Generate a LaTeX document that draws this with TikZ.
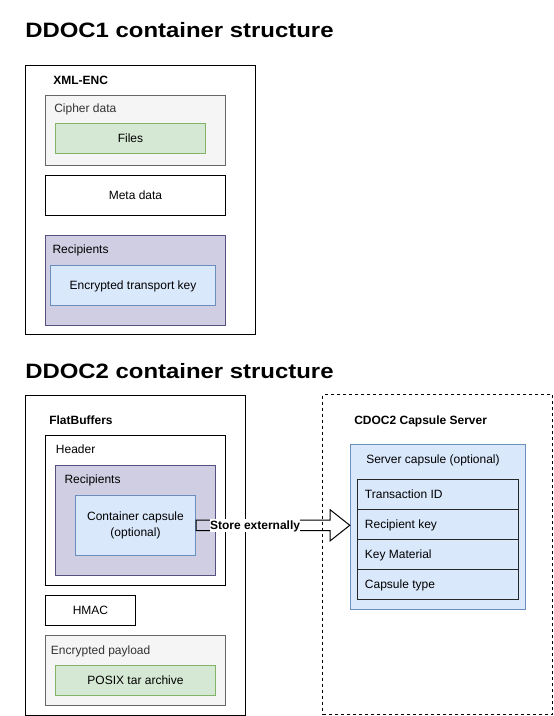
\documentclass[tikz,border=0pt]{standalone}
\usepackage{fontspec}
\setmainfont{Liberation Sans}
\usepackage{graphicx}
\usetikzlibrary{calc}

\definecolor{greyfill}{HTML}{F5F5F5}
\definecolor{greyline}{HTML}{666666}
\definecolor{greytext}{HTML}{333333}
\definecolor{greenfill}{HTML}{D5E8D4}
\definecolor{greenline}{HTML}{82B366}
\definecolor{purplefill}{HTML}{D0CEE2}
\definecolor{purpleline}{HTML}{56517E}
\definecolor{bluefill}{HTML}{DAE8FC}
\definecolor{blueline}{HTML}{6C8EBF}

\newcommand{\dfont}{\fontsize{9pt}{11pt}\selectfont}
\newcommand{\tfont}{\fontsize{15.6pt}{18pt}\selectfont\bfseries}

\begin{document}
\begin{tikzpicture}[x=.75pt,y=-.75pt,font=\dfont,
  box/.style={draw,line width=.75pt,inner sep=0pt,text height=6.5pt,text depth=0pt},
  plainbox/.style={box,fill=white},
  greybox/.style={box,draw=greyline,fill=greyfill,text=greytext},
  greenbox/.style={box,draw=greenline,fill=greenfill},
  purplebox/.style={box,draw=purpleline,fill=purplefill},
  bluebox/.style={box,draw=blueline,fill=bluefill},
  lbl/.style={anchor=west,inner sep=0pt,text height=6.5pt,text depth=0pt},
  boldlbl/.style={lbl,font=\dfont\bfseries},
  titlelbl/.style={anchor=west,inner sep=0pt,font=\tfont,text height=11.2pt,text depth=0pt}]

\useasboundingbox (0,0) rectangle (553,716);

\begin{scope}
\node[titlelbl] (title1) at (25,30) {\scalebox{1.15}[1]{DDOC1 container structure}};

\node[plainbox,minimum width=172.5pt,minimum height=202pt] (xmlenc) at (140.7,200.3) {};
\node[boldlbl] (xmlenclbl) at (53,80) {XML-ENC};

\node[greybox,minimum width=135pt,minimum height=52.5pt] (cipher) at (135.5,130.5) {};
\node[lbl,text=greytext] (cipherlbl) at (54,107.7) {Cipher data};
\node[greenbox,minimum width=112.5pt,minimum height=22.5pt] (files) at (130.5,138.3) {Files};

\node[plainbox,minimum width=135pt,minimum height=30pt] (meta) at (135.5,195.5) {Meta data};

\node[purplebox,minimum width=135pt,minimum height=67.5pt] (recip1) at (135.5,280.2) {};
\node[lbl] (recip1lbl) at (52.3,249.3) {Recipients};
\node[bluebox,minimum width=123.75pt,minimum height=30pt] (etk) at (133,285.5) {Encrypted transport key};
\end{scope}

\begin{scope}
\node[titlelbl] (title2) at (25,371.5) {\scalebox{1.15}[1]{DDOC2 container structure}};

\node[plainbox,minimum width=165pt,minimum height=240pt] (flat) at (135.7,555.5) {};
\node[boldlbl] (flatlbl) at (49,420) {FlatBuffers};

\node[plainbox,minimum width=135pt,minimum height=112.5pt] (header) at (135.5,510.5) {};
\node[lbl] (headerlbl) at (55.7,449.3) {Header};

\node[purplebox,minimum width=120pt,minimum height=82.5pt] (recip2) at (135.5,520.3) {};
\node[lbl] (recip2lbl) at (64.3,479.3) {Recipients};
\node[bluebox,minimum width=90pt,minimum height=45pt,text height=,text depth=,align=center,
  font=\fontsize{9pt}{11.7pt}\selectfont] (cap) at (135.5,525.3) {Container capsule\\(optional)};

\node[plainbox,minimum width=67.5pt,minimum height=22.5pt] (hmac) at (90.5,610.5) {HMAC};

\node[greybox,minimum width=135pt,minimum height=52.5pt] (payload) at (135.5,670.3) {};
\node[lbl,text=greytext] (payloadlbl) at (50.7,650) {Encrypted payload};
\node[greenbox,minimum width=120pt,minimum height=22.5pt] (posix) at (135.5,680.3) {POSIX tar archive};
\end{scope}

\begin{scope}
\node[box,dash pattern=on 2.25pt off 2.25pt,minimum width=172.5pt,minimum height=239.5pt] (cserver) at (437.5,554.5) {};
\node[boldlbl] (cserverlbl) at (354,420) {CDOC2 Capsule Server};

\node[bluebox,minimum width=131.25pt,minimum height=123.75pt] (srvcap) at (437.8,526.8) {};
\node[lbl] (srvcaplbl) at (366,459.3) {Server capsule (optional)};

\foreach \i/\t in {1/Transaction ID,2/Recipient key,3/Key Material,4/Capsule type}{
  \node[box,draw=black!85,fill=bluefill,minimum width=120.75pt,minimum height=22.5pt] (row\i) at (438,464.3+30*\i) {};
  \node[lbl] (row\i lbl) at ($(row\i.west)+(7.7,0)$) {\t};
}
\end{scope}

\coordinate (as) at (cap.east);
\coordinate (ae) at (srvcap.west |- cap.east);
\draw[line width=.75pt] ($(as)+(0,-5.25)$) -- ($(ae)+(-19.6,-5.25)$) -- ($(ae)+(-19.6,-15.5)$) -- (ae)
  -- ($(ae)+(-19.6,15.5)$) -- ($(ae)+(-19.6,5.25)$) -- ($(as)+(0,5.25)$) -- cycle;
\node[fill=white,inner sep=0pt,font=\dfont\bfseries,text height=6.5pt,text depth=0pt,minimum height=9.5pt] (store) at ($(as)!.384!(ae)$) {Store externally};

\end{tikzpicture}
\end{document}
